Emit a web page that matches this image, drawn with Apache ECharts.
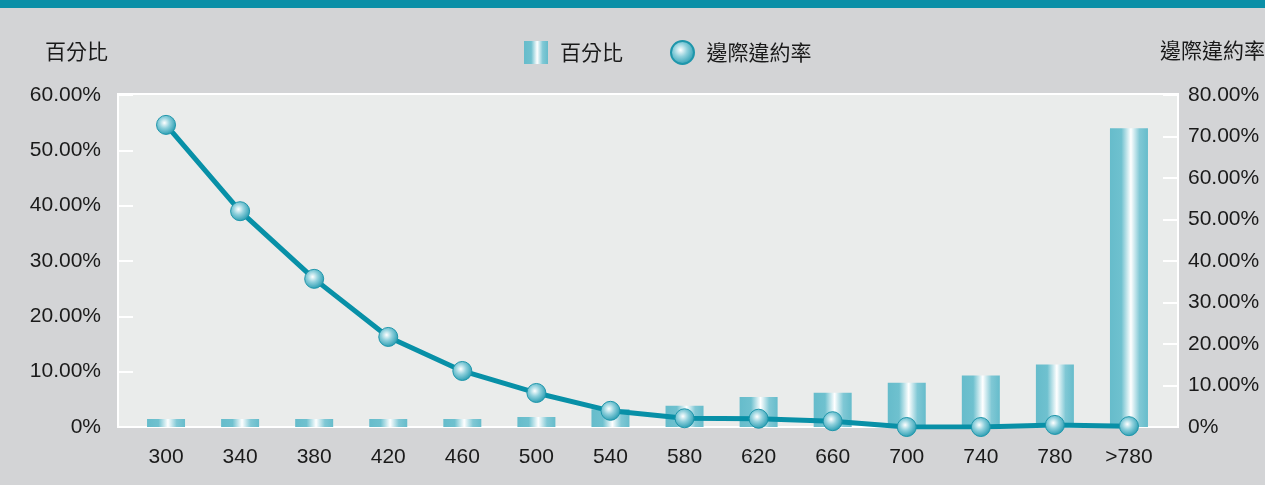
<!DOCTYPE html>
<html>
<head>
<meta charset="utf-8">
<script src="https://cdn.jsdelivr.net/npm/echarts@6/dist/echarts.min.js"></script>
<style>
  html, body { margin: 0; padding: 0; background: #d3d4d6; }
  #chart { width: 1265px; height: 485px; }
</style>
</head>
<body>
<div id="chart"></div>
<script>
// Score bands
const categories = ['300', '340', '380', '420', '460', '500', '540', '580', '620', '660', '700', '740', '780', '>780'];
// Share of accounts in each band (%), left axis
const sharePct = [1.45, 1.45, 1.45, 1.45, 1.45, 1.8, 3.2, 3.85, 5.4, 6.2, 8.0, 9.3, 11.3, 54.0];
// Marginal default rate (%), right axis
const defaultRate = [72.8, 52.0, 35.7, 21.7, 13.5, 8.2, 3.9, 2.1, 2.0, 1.4, 0, 0, 0.5, 0.2];

const leftTicks = { min: 0, max: 60, interval: 10 };
const rightTicks = { min: 0, max: 80, interval: 10 };

const FONT = '"Liberation Sans", Arial, "Noto Sans CJK TC", sans-serif';
const CJK = '"Noto Sans CJK TC", sans-serif';
const TEXT = '#1a1a1a';

const fmt = v => (v === 0 ? '0%' : v.toFixed(2) + '%');

const barGradient = new echarts.graphic.LinearGradient(0, 0, 1, 0, [
  { offset: 0, color: '#66bccb' },
  { offset: 0.3, color: '#6fc1cf' },
  { offset: 0.55, color: '#ffffff' },
  { offset: 0.78, color: '#80c8d5' },
  { offset: 1, color: '#66bccb' }
]);

const dotGradient = new echarts.graphic.RadialGradient(0.42, 0.4, 0.6, [
  { offset: 0, color: '#ffffff' },
  { offset: 0.45, color: '#8fd0dc' },
  { offset: 1, color: '#2a9db2' }
]);

const chart = echarts.init(document.getElementById('chart'), null, { renderer: 'canvas' });

const gridLeft = 129, gridRight = 99, gridTop = 95, gridBottom = 58;

chart.setOption({
  backgroundColor: '#d3d4d6',
  animation: false,
  textStyle: { fontFamily: FONT },
  graphic: [
    { type: 'rect', z: -10, shape: { x: 0, y: 0, width: 1265, height: 8 }, style: { fill: '#0a8fa7' } },
    { type: 'rect', z: -10, shape: { x: 118, y: 94, width: 1060, height: 333 },
      style: { fill: '#eaeceb', stroke: '#ffffff', lineWidth: 2 } },
    { type: 'text', left: 45, top: 41, style: { text: '百分比', font: '21px ' + CJK, fill: TEXT } },
    { type: 'text', left: 1160, top: 40, style: { text: '邊際違約率', font: '21px ' + CJK, fill: TEXT } }
  ],
  legend: {
    left: 524,
    top: 40,
    padding: 0,
    itemWidth: 24,
    itemHeight: 23,
    itemGap: 47,
    textStyle: { fontSize: 21, color: TEXT, fontFamily: CJK, padding: [0, 0, 0, 7] },
    data: [
      { name: '百分比', icon: 'rect' },
      { name: '邊際違約率', icon: 'circle' }
    ]
  },
  grid: { left: gridLeft, right: gridRight, top: gridTop, bottom: gridBottom },
  xAxis: {
    type: 'category',
    data: categories,
    boundaryGap: true,
    axisLine: { show: false },
    axisTick: { show: false },
    axisLabel: { fontSize: 21, color: TEXT, margin: 20, fontFamily: FONT }
  },
  yAxis: [
    {
      type: 'value',
      position: 'left',
      offset: 11,
      min: leftTicks.min, max: leftTicks.max, interval: leftTicks.interval,
      axisLine: { show: true, lineStyle: { color: '#ffffff', width: 2 } },
      axisTick: { show: true, inside: true, length: 15, lineStyle: { color: '#ffffff', width: 2 } },
      splitLine: { show: false },
      axisLabel: { fontSize: 21, color: TEXT, margin: 17, formatter: fmt, fontFamily: FONT }
    },
    {
      type: 'value',
      position: 'right',
      offset: 12,
      min: rightTicks.min, max: rightTicks.max, interval: rightTicks.interval,
      axisLine: { show: true, lineStyle: { color: '#ffffff', width: 2 } },
      axisTick: { show: true, inside: true, length: 15, lineStyle: { color: '#ffffff', width: 2 } },
      splitLine: { show: false },
      axisLabel: { fontSize: 21, color: TEXT, margin: 10, formatter: fmt, fontFamily: FONT }
    }
  ],
  series: [
    {
      name: '百分比',
      type: 'bar',
      yAxisIndex: 0,
      barWidth: 38,
      data: sharePct,
      itemStyle: { color: barGradient }
    },
    {
      name: '邊際違約率',
      type: 'line',
      yAxisIndex: 1,
      data: defaultRate,
      symbol: 'circle',
      symbolSize: 19,
      lineStyle: { color: '#0890a7', width: 5 },
      itemStyle: { color: dotGradient, borderColor: '#1e96ab', borderWidth: 1 },
      z: 5
    }
  ]
});
</script>
</body>
</html>
